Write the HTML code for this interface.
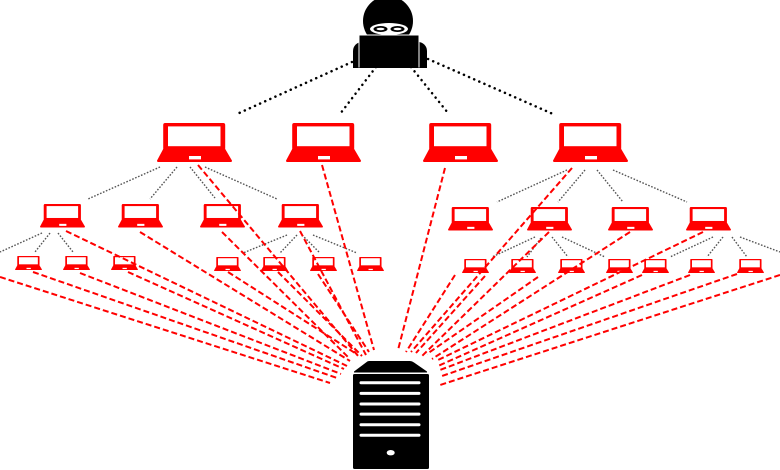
<!DOCTYPE html>
<html>
<head>
<meta charset="utf-8">
<style>
html,body{margin:0;padding:0;background:#fff;}
svg{display:block;}
</style>
</head>
<body>
<svg width="780" height="470" viewBox="0 0 780 470" xmlns="http://www.w3.org/2000/svg">
<defs>
<symbol id="lap" viewBox="0 0 75 39">
  <rect x="6.2" y="0" width="62" height="27.5" rx="2" fill="#f00"/>
  <rect x="11" y="3.4" width="52.5" height="19.8" fill="#fff"/>
  <path d="M6.2 26 H68.2 L75 37.6 Q75 39 73.6 39 H1.4 Q0 39 0 37.6 Z" fill="#f00"/>
  <rect x="32" y="33" width="12" height="3.4" fill="#fff"/>
</symbol>
</defs>

<!-- hacker to level1 black dotted -->
<g stroke="#000" stroke-width="2.5" stroke-dasharray="0.1 5.5" stroke-linecap="round" fill="none">
  <line x1="352" y1="62" x2="237" y2="114"/>
  <line x1="376" y1="67" x2="340" y2="114"/>
  <line x1="411" y1="67" x2="448" y2="113"/>
  <line x1="428" y1="59" x2="553" y2="114"/>
</g>

<!-- gray dotted tree lines -->
<g stroke="#555" stroke-width="1.4" stroke-dasharray="1.6 1.6" fill="none">
  <line x1="160" y1="167" x2="88" y2="199"/>
  <line x1="177" y1="167" x2="150" y2="199"/>
  <line x1="190" y1="167" x2="215" y2="198"/>
  <line x1="205" y1="167" x2="277" y2="199"/>

  <line x1="567" y1="170" x2="497" y2="202"/>
  <line x1="585" y1="170" x2="558" y2="202"/>
  <line x1="597" y1="170" x2="623" y2="202"/>
  <line x1="613" y1="170" x2="687" y2="202"/>

  <line x1="42" y1="233" x2="0" y2="252"/>
  <line x1="50" y1="233" x2="35" y2="252"/>
  <line x1="58" y1="233" x2="73" y2="252"/>

  <line x1="287" y1="235" x2="243" y2="253"/>
  <line x1="297" y1="235" x2="280" y2="253"/>
  <line x1="302" y1="235" x2="320" y2="253"/>
  <line x1="313" y1="235" x2="357" y2="253"/>

  <line x1="535" y1="237" x2="492" y2="257"/>
  <line x1="541" y1="238" x2="527" y2="257"/>
  <line x1="552" y1="237" x2="568" y2="257"/>
  <line x1="562" y1="237" x2="605" y2="257"/>

  <line x1="713" y1="237" x2="670" y2="257"/>
  <line x1="723" y1="237" x2="707" y2="257"/>
  <line x1="732" y1="237" x2="747" y2="257"/>
  <line x1="740" y1="237" x2="780" y2="252"/>
</g>

<!-- level 1 laptops -->
<use href="#lap" x="157" y="123" width="75" height="39"/>
<use href="#lap" x="286" y="123" width="75" height="39"/>
<use href="#lap" x="423" y="123" width="75" height="39"/>
<use href="#lap" x="553" y="123" width="75" height="39"/>

<!-- level 2 laptops -->
<use href="#lap" x="40" y="204" width="45" height="23.5"/>
<use href="#lap" x="118" y="204" width="45" height="23.5"/>
<use href="#lap" x="200" y="204" width="45" height="23.5"/>
<use href="#lap" x="278" y="204" width="45" height="23.5"/>
<use href="#lap" x="448" y="207" width="45" height="23.5"/>
<use href="#lap" x="527" y="207" width="45" height="23.5"/>
<use href="#lap" x="608" y="207" width="45" height="23.5"/>
<use href="#lap" x="686" y="207" width="45" height="23.5"/>

<!-- level 3 laptops -->
<use href="#lap" x="15" y="256" width="27" height="14"/>
<use href="#lap" x="63" y="256" width="27" height="14"/>
<use href="#lap" x="111" y="256" width="27" height="14"/>
<use href="#lap" x="214" y="257" width="27" height="14"/>
<use href="#lap" x="261" y="257" width="27" height="14"/>
<use href="#lap" x="310" y="257" width="27" height="14"/>
<use href="#lap" x="357" y="257" width="27" height="14"/>
<use href="#lap" x="462" y="259" width="27" height="14"/>
<use href="#lap" x="509" y="259" width="27" height="14"/>
<use href="#lap" x="558" y="259" width="27" height="14"/>
<use href="#lap" x="606" y="259" width="27" height="14"/>
<use href="#lap" x="642" y="259" width="27" height="14"/>
<use href="#lap" x="688" y="259" width="27" height="14"/>
<use href="#lap" x="737" y="259" width="27" height="14"/>

<!-- red dashed lines to server -->
<g stroke="#f00" stroke-width="2" stroke-dasharray="6 3" fill="none">
  <line x1="0" y1="277" x2="330" y2="383"/>
  <line x1="33" y1="272" x2="337" y2="378"/>
  <line x1="80" y1="273" x2="341" y2="374"/>
  <line x1="128" y1="272" x2="344" y2="369"/>
  <line x1="66" y1="231" x2="347" y2="366"/>
  <line x1="140" y1="232" x2="350" y2="361"/>
  <line x1="228" y1="272" x2="355" y2="353"/>
  <line x1="222" y1="232" x2="349" y2="358"/>
  <line x1="198" y1="165" x2="359" y2="357"/>
  <line x1="278" y1="272" x2="362" y2="356"/>
  <line x1="300" y1="231" x2="366" y2="355"/>
  <line x1="318" y1="274" x2="369" y2="352"/>
  <line x1="322" y1="165" x2="374" y2="350"/>

  <line x1="445" y1="168" x2="398" y2="350"/>
  <line x1="455" y1="275" x2="406" y2="352"/>
  <line x1="572" y1="168" x2="411" y2="352"/>
  <line x1="485" y1="276" x2="416" y2="353"/>
  <line x1="549" y1="232" x2="422" y2="356"/>
  <line x1="538" y1="277" x2="427" y2="354"/>
  <line x1="630" y1="232" x2="432" y2="359"/>
  <line x1="703" y1="232" x2="436" y2="361"/>
  <line x1="642" y1="275" x2="438" y2="366"/>
  <line x1="690" y1="275" x2="440" y2="370"/>
  <line x1="737" y1="274" x2="442" y2="376"/>
  <line x1="780" y1="275" x2="440" y2="385"/>
</g>

<!-- hacker -->
<g>
  <circle cx="388" cy="21" r="25" fill="#000"/>
  <rect x="353" y="42" width="74" height="26" rx="9" fill="#000"/>
  <rect x="353" y="52" width="74" height="16" fill="#000"/>
  <ellipse cx="389" cy="29" rx="19" ry="6" fill="#fff"/>
  <ellipse cx="380.5" cy="29" rx="7" ry="3" fill="#000"/>
  <ellipse cx="397.5" cy="29" rx="7" ry="3" fill="#000"/>
  <ellipse cx="380.5" cy="29" rx="4" ry="1.3" fill="#fff"/>
  <ellipse cx="397.5" cy="29" rx="4" ry="1.3" fill="#fff"/>
  <rect x="358.5" y="34.5" width="61" height="33" fill="#fff"/>
  <rect x="359.5" y="35.5" width="59" height="32" fill="#000"/>
</g>

<!-- server -->
<g>
  <path d="M369 361 H410 Q412 361 414 362.5 L427 371.5 V372.5 H354 V371.5 L366 362.5 Q367.5 361 369 361 Z" fill="#000"/>
  <rect x="353" y="374" width="76" height="95" rx="1.5" fill="#000"/>
  <rect x="359.5" y="381.3" width="61" height="3" rx="1.5" fill="#fff"/>
  <rect x="359.5" y="391.9" width="61" height="3" rx="1.5" fill="#fff"/>
  <rect x="359.5" y="402.5" width="61" height="3" rx="1.5" fill="#fff"/>
  <rect x="359.5" y="412.6" width="61" height="3" rx="1.5" fill="#fff"/>
  <rect x="359.5" y="423.2" width="61" height="3" rx="1.5" fill="#fff"/>
  <rect x="359.5" y="433.8" width="61" height="3" rx="1.5" fill="#fff"/>
  <ellipse cx="390.7" cy="452.7" rx="4" ry="2.7" fill="#fff"/>
</g>
</svg>
</body>
</html>
